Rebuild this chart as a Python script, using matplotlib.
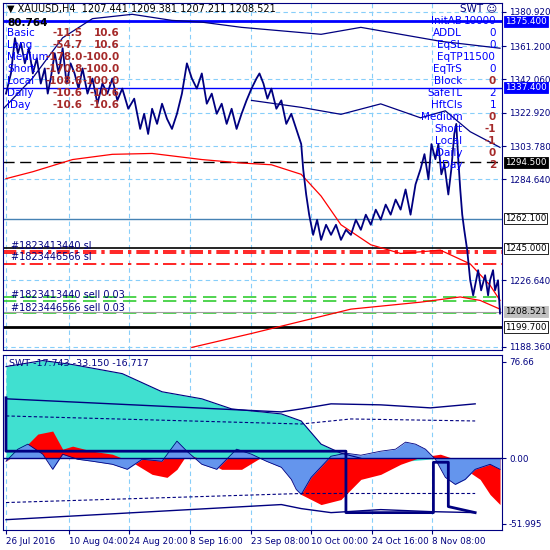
import numpy as np
import matplotlib.pyplot as plt

# x positions are in bar units across the chart
price_x = [3, 8, 12, 15, 18, 22, 26, 30, 34, 38, 42, 45, 48, 52, 56, 60, 64, 68, 72, 76, 80, 85, 90, 95,
           100, 105, 110, 115, 120, 126, 132, 138, 142, 146, 150, 155, 160, 165, 170, 175, 180, 185, 190,
           195, 200, 205, 210, 215, 220, 225, 230, 235, 240, 245, 250, 255, 258, 262, 266, 270, 275, 280,
           285, 290, 295, 300, 302, 305, 308, 312, 316, 320, 325, 330, 335, 340, 345, 350, 355, 360, 365,
           370, 375, 380, 385, 390, 395, 400, 405, 410, 415, 420, 424, 428, 431, 435, 438, 441, 444, 448,
           451, 454, 456, 458, 460, 462, 464, 467, 470, 473, 476, 478, 481, 485, 488, 490, 493, 495, 498, 500]
price_y = [1333.9, 1345.5, 1365.8, 1357.1, 1362.9, 1351.3, 1360.0, 1345.5, 1354.2, 1339.7, 1348.4, 1333.9,
           1342.6, 1357.1, 1345.5, 1360.0, 1339.7, 1351.3, 1345.5, 1336.8, 1348.4, 1333.9, 1342.6, 1328.1,
           1339.7, 1333.9, 1342.6, 1330.0, 1336.8, 1325.2, 1331.0, 1313.6, 1322.3, 1310.7, 1325.2, 1316.5,
           1328.1, 1319.4, 1313.6, 1322.3, 1333.9, 1351.3, 1342.6, 1336.8, 1345.5, 1328.1, 1333.9, 1322.3,
           1328.1, 1316.5, 1325.2, 1313.6, 1322.3, 1330.0, 1336.8, 1342.6, 1345.5, 1339.7, 1331.0, 1336.8,
           1325.2, 1330.0, 1316.5, 1322.3, 1313.6, 1304.9, 1290.4, 1275.9, 1264.3, 1252.7, 1261.4, 1249.8,
           1258.5, 1252.7, 1258.5, 1249.8, 1255.6, 1252.7, 1261.4, 1255.6, 1264.3, 1258.5, 1267.2, 1261.4,
           1270.1, 1264.3, 1273.0, 1267.2, 1278.8, 1264.3, 1281.7, 1290.4, 1299.1, 1284.6, 1304.9, 1296.2,
           1304.9, 1287.5, 1293.3, 1275.9, 1290.4, 1310.7, 1316.5, 1296.2, 1278.8, 1264.3, 1255.6, 1243.9,
           1226.6, 1217.9, 1226.6, 1232.4, 1220.8, 1229.5, 1217.9, 1226.6, 1232.4, 1220.8, 1226.6, 1207.5]

ma_top_x = [0, 30, 60, 90, 130, 170, 200, 240, 280, 320, 360, 400, 440, 470, 500]
ma_top_y = [1325.0, 1343.0, 1366.0, 1377.0, 1379.5, 1376.0, 1375.0, 1372.0, 1370.0, 1368.0, 1372.0, 1368.0, 1364.0, 1362.0, 1360.0]
ma_mid_x = [250, 300, 340, 380, 420, 445, 470, 500]
ma_mid_y = [1330.0, 1326.0, 1322.0, 1328.0, 1320.0, 1324.0, 1312.0, 1303.0]
red_ma_x = [3, 30, 70, 110, 150, 200, 240, 270, 300, 320, 340, 370, 400, 440, 470, 490, 500]
red_ma_y = [1285.0, 1289.0, 1296.0, 1299.0, 1299.5, 1296.0, 1294.0, 1293.0, 1287.5, 1275.0, 1258.5, 1247.0, 1242.0, 1243.9, 1236.0, 1223.7, 1215.0]
red_low_x = [190, 250, 300, 350, 420, 460, 480, 500]
red_low_y = [1188.0, 1196.0, 1203.0, 1210.0, 1214.0, 1217.0, 1215.0, 1210.0]

levels = [1375.4, 1337.4, 1294.5, 1262.1, 1245.0, 1199.7]
sl_levels = [1243.5, 1242.0, 1235.7]
tp_levels = [1216.8, 1214.5, 1208.0]
price_ticks = [1380.920, 1361.200, 1342.060, 1322.920, 1303.780, 1284.640, 1226.640, 1188.360]

left_names = ['Basic', 'Long', 'Medium', 'Short', 'Local', 'Daily', 'IDay']
left_a = ['-11.5', '-54.7', '-178.0', '-170.8', '-108.6', '-10.6', '-10.6']
left_b = ['10.6', '10.6', '-100.0', '-100.0', '-100.0', '-10.6', '-10.6']
right_names = ['InitAB', 'ADDL', 'EqSL', 'EqTP', 'EqTrS', 'Block', 'SafeTL', 'HftCls', 'Medium', 'Short', 'Local', 'Daily', 'IDay']
right_vals = ['10000', '0', '0', '11500', '0', '0', '2', '1', '0', '-1', '-1', '0', '2']
right_red = [False, False, False, False, False, True, False, False, True, True, True, True, True]

osc_x = [3, 20, 35, 50, 60, 70, 90, 110, 130, 150, 165, 175, 185, 200, 220, 240, 260, 280, 300, 320, 340,
         360, 380, 400, 420, 440, 455, 465, 480, 490, 500]
osc_red = [-2.4, 7.2, 19.2, 21.6, 7.2, 9.6, 5.6, 3.2, -3.2, -12.8, -15.2, -8.8, 3.2, -0.8, -8.8, -8.8, 0.8,
           -4.8, -28.8, -36.8, -32.8, -16.8, -12.8, -4.8, 0.8, 3.2, -0.8, -8.8, -16.8, -28.8, -36.8]
osc2_x = [3, 15, 25, 40, 50, 60, 75, 90, 110, 125, 140, 160, 175, 185, 200, 215, 235, 250, 265, 280, 290, 295,
          300, 310, 330, 345, 360, 380, 395, 405, 415, 425, 435, 445, 455, 465, 475, 490, 500]
osc_blue = [-2.4, 7.2, 11.2, 3.2, -8.8, 3.2, -0.8, -2.4, -4.8, -8.8, -0.8, -2.4, 13.6, 5.6, -4.8, -8.8, 7.2,
            3.2, -2.4, -7.2, -16.8, -24.8, -28.8, -15.2, 1.6, 4.0, 2.4, 5.6, 7.2, 12.8, 11.2, 7.2, -0.8, -15.2,
            -20.8, -16.8, -8.8, -4.8, -8.8]
teal_x = [3, 40, 70, 120, 160, 200, 230, 280, 300, 320, 340, 360, 410, 440]
teal_y = [72.8, 77.6, 74.4, 67.2, 52.8, 47.2, 39.2, 35.2, 29.6, 11.2, 4.0, 0.0, -2.0, 0.0]
env_x = [3, 280, 300, 330, 380, 430, 475]
env_hi = [47.2, 36.8, 39.2, 43.2, 42.4, 40.0, 43.2]
env_lo = [-48.8, -36.8, -40.0, -43.2, -40.8, -42.4, -43.2]
dash_x = [3, 300, 350, 475]
dash_hi = [33.6, 27.2, 31.2, 29.6]
dash_lo = [-35.2, -28.0, -28.0, -28.0]
step_x = [3, 3, 345, 345, 433, 433, 448, 448, 475]
step_y = [48.0, 5.6, 5.6, -43.2, -43.2, -3.2, -3.2, -38.4, -43.2]

xtick_pos = [3, 66, 127, 188, 249, 310, 371, 432]
xtick_lab = ['26 Jul 2016', '10 Aug 04:00', '24 Aug 20:00', '8 Sep 16:00', '23 Sep 08:00',
             '10 Oct 00:00', '24 Oct 16:00', '8 Nov 08:00']

navy = '#000080'
blue = '#0000ff'
brown = '#a52a2a'
grid = '#87cefa'
fs = 6.3

fig = plt.figure(figsize=(5.5, 5.5), dpi=100)
ax = fig.add_axes([3/550, 1 - 350/550, 499/550, 347/550])
ax2 = fig.add_axes([3/550, 1 - 530/550, 499/550, 175/550])

for a in (ax, ax2):
    a.set_xlim(0, 502)
    for p in xtick_pos:
        a.axvline(p, color=grid, ls=(0, (4, 3)), lw=0.8, zorder=0)
    for s in a.spines.values():
        s.set_color(navy)
    a.tick_params(colors=navy, labelsize=fs, length=3, pad=2)
    a.yaxis.tick_right()

# main price panel
ax.set_ylim(1186.5, 1386.0)
for t in price_ticks:
    ax.axhline(t, color=grid, ls=(0, (4, 3)), lw=0.8, zorder=0)
ax.set_yticks(price_ticks)
ax.set_yticklabels(['%.3f' % t for t in price_ticks])
ax.set_xticks([])

ax.axhline(levels[0], color=blue, lw=2)
ax.axhline(levels[1], color=blue, lw=1)
ax.axhline(levels[2], color='black', lw=1, ls=(0, (8, 4)))
ax.axhline(levels[3], color='#4682b4', lw=1)
ax.axhline(levels[4], color='black', lw=1.2)
ax.axhline(levels[5], color='black', lw=2)
for lv in sl_levels:
    ax.axhline(lv, color='red', lw=1.2, ls=(0, (8, 3, 2, 3)))
for lv in tp_levels:
    ax.axhline(lv, color='#32cd32', lw=1.2, ls=(0, (8, 4)))
ax.axhline(1208.521, color='#a0a0a0', lw=0.8)

ax.plot(ma_top_x, ma_top_y, color=navy, lw=0.9)
ax.plot(ma_mid_x, ma_mid_y, color=navy, lw=0.9)
ax.plot(red_ma_x, red_ma_y, color='red', lw=0.9)
ax.plot(red_low_x, red_low_y, color='red', lw=0.9)
ax.plot(price_x, price_y, color=navy, lw=1.3)

boxes = [(1375.4, blue, 'white'), (1337.4, blue, 'white'), (1294.5, 'black', 'white'),
         (1262.1, 'white', 'black'), (1245.0, 'white', 'black'), (1208.521, '#c0c0c0', 'black'),
         (1199.7, 'white', 'black')]
for v, bg, fg in boxes:
    ax.text(505, v, '%.3f' % v, clip_on=False, fontsize=fs, color=fg, va='center', ha='left',
            bbox=dict(boxstyle='square,pad=0.12', fc=bg, ec='black' if bg == 'white' else bg, lw=0.6))

ax.text(4, 1381.0, '▼ XAUUSD,H4  1207.441 1209.381 1207.211 1208.521', fontsize=7, color='black')
ax.text(4, 1372.6, '80.764', fontsize=7.5, color='black', fontweight='bold')
for i in range(len(left_names)):
    yy = 1368.5 - i * 6.9
    ax.text(4, yy, left_names[i], fontsize=7.5, color=blue, va='center')
    ax.text(80, yy, left_a[i], fontsize=7.5, color=brown, va='center', ha='right', fontweight='bold')
    ax.text(117, yy, left_b[i], fontsize=7.5, color=brown, va='center', ha='right', fontweight='bold')
ax.text(478, 1381.0, 'SWT ☺', fontsize=7.5, color=navy, ha='center')
for i in range(len(right_names)):
    yy = 1375.4 - i * 6.9
    ax.text(496, yy, right_vals[i], fontsize=7.5, va='center', ha='right',
            color=brown if right_red[i] else blue, fontweight='bold' if right_red[i] else 'normal')
    ax.text(462, yy, right_names[i], fontsize=7.5, color=blue, va='center', ha='right')
ax.text(8, 1244.5, '#1823413440 sl', fontsize=7, color=navy)
ax.text(8, 1238.0, '#1823446566 sl', fontsize=7, color=navy)
ax.text(8, 1216.5, '#1823413440 sell 0.03', fontsize=7, color=navy)
ax.text(8, 1209.0, '#1823446566 sell 0.03', fontsize=7, color=navy)

# oscillator panel
ax2.set_ylim(-57, 82)
ax2.axhline(0, color=navy, lw=1)
ax2.set_yticks([76.66, 0.0, -51.995])
ax2.set_yticklabels(['76.66', '0.00', '-51.995'])
ax2.fill_between(teal_x, teal_y, 0, color='#40e0d0', lw=0)
ax2.plot(teal_x[:12], teal_y[:12], color=navy, lw=0.8)
ax2.fill_between(osc_x, osc_red, 0, color='red', lw=0)
ax2.fill_between(osc2_x, osc_blue, 0, color='#6495ed', lw=0)
ax2.plot(osc2_x, osc_blue, color=navy, lw=0.6)
ax2.plot(env_x, env_hi, color=navy, lw=1)
ax2.plot(env_x, env_lo, color=navy, lw=1)
ax2.plot(dash_x, dash_hi, color=navy, lw=0.8, ls=(0, (3, 2)))
ax2.plot(dash_x, dash_lo, color=navy, lw=0.8, ls=(0, (3, 2)))
ax2.plot(step_x, step_y, color=navy, lw=2)
ax2.text(6, 73, 'SWT -17.743 -33.150 -16.717', fontsize=6.8, color=navy)
ax2.set_xticks(xtick_pos)
ax2.set_xticklabels(xtick_lab, fontsize=fs, color=navy, ha='left')

fig.savefig('out.png', dpi=100)
